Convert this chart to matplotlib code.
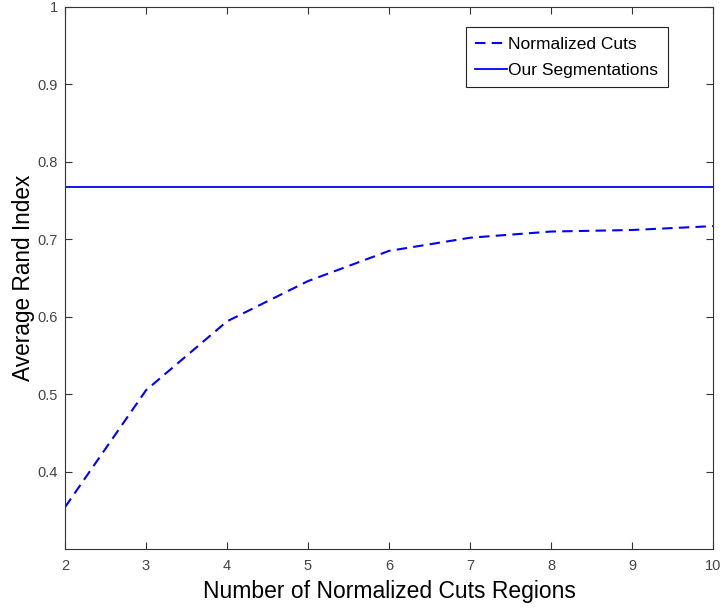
import matplotlib.pyplot as plt
import numpy as np

plt.rcParams['font.family'] = ['Liberation Sans', 'DejaVu Sans']

# average rand index vs number of regions
n_regions = [2, 3, 4, 5, 6, 7, 8, 9, 10]
ncuts_ri = [0.354, 0.505, 0.594, 0.646, 0.685, 0.702, 0.710, 0.712, 0.717]
ours_ri = 0.767

y_ticks = [0.4, 0.5, 0.6, 0.7, 0.8, 0.9, 1.0]
y_labels = ['0.4', '0.5', '0.6', '0.7', '0.8', '0.9', '1']

fig = plt.figure(figsize=(7.23, 6.09), dpi=100)
ax = fig.add_axes([65 / 723, 1 - 549 / 609, 648 / 723, 542 / 609])

ax.plot(n_regions, ncuts_ri, '--', color='#0000ff', linewidth=1.5, dashes=(5, 3),
        label='Normalized Cuts')
ax.axhline(ours_ri, color='#0000ff', linewidth=1.3, label='Our Segmentations')

ax.set_xlim(2, 10)
ax.set_ylim(0.3, 1.0)
ax.set_xticks(np.arange(2, 11, 1))
ax.set_yticks(y_ticks)
ax.set_yticklabels(y_labels)
ax.tick_params(direction='in', length=5, top=True, right=True,
               labelsize=10.5, labelcolor='#444444', color='#333333')
ax.tick_params(axis='x', pad=7)
ax.tick_params(axis='y', pad=5)
for s in ax.spines.values():
    s.set_color('#333333')

ax.set_xlabel('Number of Normalized Cuts Regions', fontsize=16.5, labelpad=5.5)
ax.set_ylabel('Average Rand Index', fontsize=16.3, labelpad=2)

leg = ax.legend(loc='upper right', bbox_to_anchor=(603 / 648, 0.963), fontsize=12.5,
                fancybox=False, framealpha=1, edgecolor='#222222',
                handlelength=1.8, handletextpad=0.1, borderpad=0.55,
                labelspacing=0.62, borderaxespad=0)
leg.get_frame().set_linewidth(0.8)

fig.savefig('out.png', dpi=100)
